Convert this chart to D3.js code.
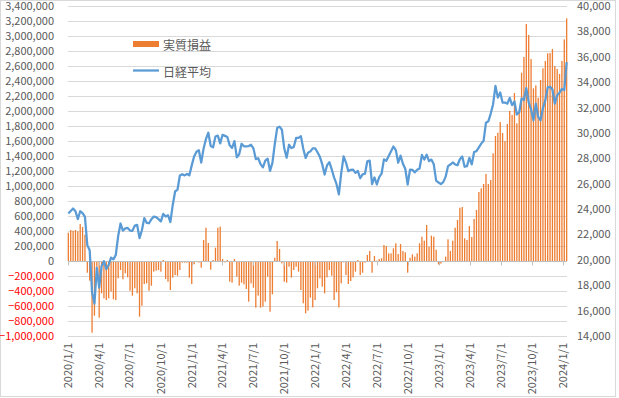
<!DOCTYPE html>
<html>
<head>
<meta charset="utf-8">
<script src="https://cdn.jsdelivr.net/npm/d3@7"></script>
<style>
  body { margin: 0; background: #fff; }
  text { font-family: "Noto Sans CJK JP", "Noto Sans", sans-serif; }
</style>
</head>
<body>
<svg width="619" height="398"></svg>
<script>
// weekly categories (Fridays), 2020/1/3 .. 2024/1/12
const weeks = d3.timeFriday.range(new Date(2020, 0, 3), new Date(2024, 0, 13));

// 実質損益 (yen)
const profit = [
  377000, 413000, 404000, 413000, 395000, 493000, 453000, 350000, -156000, -262000,
  -956000, -729000, -76000, -756000, -431000, -498000, -520000, -498000, -409000, -511000,
  -520000, -231000, -120000, -244000, -164000, -218000, -396000, -462000, -364000, -431000,
  -742000, -596000, -307000, -298000, -396000, -329000, -142000, -129000, -120000, -142000,
  13000, -240000, -276000, -387000, -222000, -187000, -196000, -120000, -22000, -22000,
  -22000, -222000, -307000, -44000, -5000, -22000, -89000, 280000, 444000, 240000,
  -116000, 13000, 178000, 444000, 458000, 27000, -18000, 13000, -276000, -289000,
  27000, -209000, -329000, -289000, -311000, -373000, -542000, -298000, -356000, -622000,
  -462000, -622000, -609000, -542000, -209000, -676000, -444000, 44000, 267000, 160000,
  -31000, -276000, -289000, -76000, -222000, -120000, -76000, -142000, -387000, -564000,
  -698000, -662000, -489000, -618000, -520000, -364000, -231000, -342000, -431000, -218000,
  -120000, -196000, -520000, -418000, -618000, -298000, -18000, -187000, -307000, -267000,
  -218000, -142000, 13000, -187000, -156000, -22000, 80000, 133000, -156000, 67000,
  5000, 27000, 36000, 213000, 200000, 102000, 102000, 169000, 236000, 93000,
  227000, 133000, 116000, -156000, 44000, 89000, 58000, 102000, 236000, 324000,
  271000, 480000, 191000, 338000, 324000, 150000, -45000, -35000, -15000, 58000,
  289000, 133000, 271000, 444000, 547000, 710000, 720000, 302000, 280000, 467000,
  320000, 560000, 680000, 920000, 969000, 1027000, 1160000, 1027000, 1080000, 1436000,
  1667000, 1711000, 1853000, 1707000, 1600000, 1827000, 2000000, 1947000, 2240000, 1835000,
  1982000, 2511000, 2720000, 3160000, 3013000, 2693000, 2302000, 2342000, 2178000, 2413000,
  2569000, 2667000, 2769000, 2773000, 2827000, 2600000, 2560000, 2493000, 2667000, 2955000, 3235000
];

// 日経平均 weekly close
const nikkei = [
  23657, 23851, 24041, 23827, 23205, 23828, 23688, 23387, 21143, 20750,
  17431, 16553, 19389, 17820, 19499, 19897, 19262, 19619, 20179, 20037,
  20388, 21878, 22864, 22305, 22479, 22512, 22306, 22291, 22696, 22751,
  21710, 22329, 23289, 22920, 22882, 23205, 23406, 23360, 23205, 23030,
  23620, 23411, 23517, 22977, 24325, 25385, 25527, 26645, 26751, 26653,
  26763, 26657, 27444, 28139, 28519, 28631, 27663, 28779, 29520, 30018,
  28966, 28864, 29718, 29792, 29177, 29854, 29768, 29683, 29021, 28813,
  29358, 28084, 28318, 29149, 28942, 28949, 28964, 29066, 28783, 27940,
  28003, 27548, 27284, 27820, 27977, 27013, 27641, 29128, 30382, 30500,
  30249, 28771, 28049, 29069, 28805, 28893, 29612, 29610, 29746, 28752,
  28030, 28438, 28546, 28782, 28792, 28479, 28124, 27522, 26717, 27440,
  27697, 27122, 26477, 25985, 25163, 26827, 28150, 27666, 26986, 27093,
  27105, 26848, 27004, 26428, 26739, 26782, 27762, 27824, 25963, 26491,
  25936, 26517, 26788, 27915, 27802, 28176, 28547, 28931, 28642, 27651,
  28215, 27568, 27154, 25937, 27116, 27091, 26891, 27105, 27200, 28264,
  27900, 28284, 27778, 27901, 27528, 26236, 26095, 25974, 26120, 26554,
  27383, 27510, 27671, 27514, 27454, 27927, 28144, 27334, 27385, 28041,
  27518, 28493, 28564, 28856, 29158, 29388, 30808, 30916, 31524, 32265,
  33706, 32782, 33189, 32388, 32391, 32304, 32759, 32193, 32474, 31451,
  31625, 32711, 32607, 33534, 32403, 31858, 30995, 32316, 31260, 30992,
  31950, 32568, 33586, 33626, 33432, 32308, 32971, 33170, 33464, 33377, 35578
];

const leftTicks = d3.range(-1000000, 3400001, 200000);
const rightTicks = d3.range(14000, 40001, 2000);
const dateTicks = d3.timeMonth.every(3).range(new Date(2020, 0, 1), new Date(2024, 0, 2));
const legendNames = ["実質損益", "日経平均"];

const orange = "#ED7D31", blue = "#5B9BD5", grid = "#D9D9D9", textCol = "#595959";

const svg = d3.select("svg");
const plotL = 68, plotR = 567, plotT = 6, plotB = 336;

const x = d3.scaleTime()
  .domain([new Date(2020, 0, 2), new Date(2024, 0, 13)])
  .range([plotL, plotR]);
const y = d3.scaleLinear().domain([-1000000, 3400000]).range([plotB, plotT]);
const y2 = d3.scaleLinear().domain([14000, 40000]).range([plotB, plotT]);

// chart border
svg.append("rect")
  .attr("x", 0.5).attr("y", 0.5).attr("width", 615).attr("height", 396)
  .attr("fill", "none").attr("stroke", grid);

// gridlines
svg.append("g").selectAll("line").data(leftTicks).join("line")
  .attr("x1", plotL).attr("x2", plotR)
  .attr("y1", d => Math.round(y(d)) + 0.5).attr("y2", d => Math.round(y(d)) + 0.5)
  .attr("stroke", grid).attr("stroke-width", 1);

// left axis
const fmt = d3.format(",");
const yAxis = svg.append("g").attr("transform", `translate(${plotL - 14},0)`)
  .call(d3.axisLeft(y).tickValues(leftTicks).tickFormat(fmt).tickSize(0).tickPadding(0));
yAxis.select(".domain").remove();
yAxis.selectAll("text")
  .attr("font-size", 11)
  .attr("font-family", "Noto Sans CJK JP")
  .attr("fill", d => d < 0 ? "#FF0000" : textCol);

// right axis
const y2Axis = svg.append("g").attr("transform", `translate(${plotR + 10},0)`)
  .call(d3.axisRight(y2).tickValues(rightTicks).tickFormat(fmt).tickSize(0).tickPadding(0));
y2Axis.select(".domain").remove();
y2Axis.selectAll("text").attr("font-size", 11).attr("font-family", "Noto Sans CJK JP").attr("fill", textCol);

// bars
svg.append("g").selectAll("rect").data(profit).join("rect")
  .attr("x", (d, i) => x(weeks[i]) - 0.65)
  .attr("width", 1.3)
  .attr("y", d => y(Math.max(0, d)))
  .attr("height", d => Math.abs(y(d) - y(0)))
  .attr("fill", orange);

// x axis at zero
const zeroY = Math.round(y(0)) + 0.5;
svg.append("line")
  .attr("x1", plotL).attr("x2", plotR).attr("y1", zeroY).attr("y2", zeroY)
  .attr("stroke", "#BFBFBF");
svg.append("g").selectAll("line").data(dateTicks).join("line")
  .attr("x1", d => Math.round(x(d)) + 0.5).attr("x2", d => Math.round(x(d)) + 0.5)
  .attr("y1", zeroY).attr("y2", zeroY + 4)
  .attr("stroke", "#BFBFBF");

// date labels
const dfmt = d => `${d.getFullYear()}/${d.getMonth() + 1}/${d.getDate()}`;
svg.append("g").selectAll("text").data(dateTicks).join("text")
  .attr("transform", d => `translate(${x(d) + 4},343) rotate(-90)`)
  .attr("text-anchor", "end")
  .attr("font-size", 11)
  .attr("fill", textCol)
  .text(dfmt);

// nikkei line
const line = d3.line()
  .x((d, i) => x(weeks[i]))
  .y(d => y2(d));
svg.append("path").datum(nikkei)
  .attr("d", line)
  .attr("fill", "none")
  .attr("stroke", blue)
  .attr("stroke-width", 2.25)
  .attr("stroke-linejoin", "round");

// legend
const lg = svg.append("g");
lg.append("rect").attr("x", 133).attr("y", 41).attr("width", 26).attr("height", 6).attr("fill", orange);
lg.append("line").attr("x1", 133).attr("x2", 159).attr("y1", 70.5).attr("y2", 70.5)
  .attr("stroke", blue).attr("stroke-width", 2.25);
lg.selectAll("text").data(legendNames).join("text")
  .attr("x", 163)
  .attr("y", (d, i) => i === 0 ? 44 : 71)
  .attr("dominant-baseline", "central")
  .attr("font-size", 12)
  .attr("fill", textCol)
  .text(d => d);
</script>
</body>
</html>
